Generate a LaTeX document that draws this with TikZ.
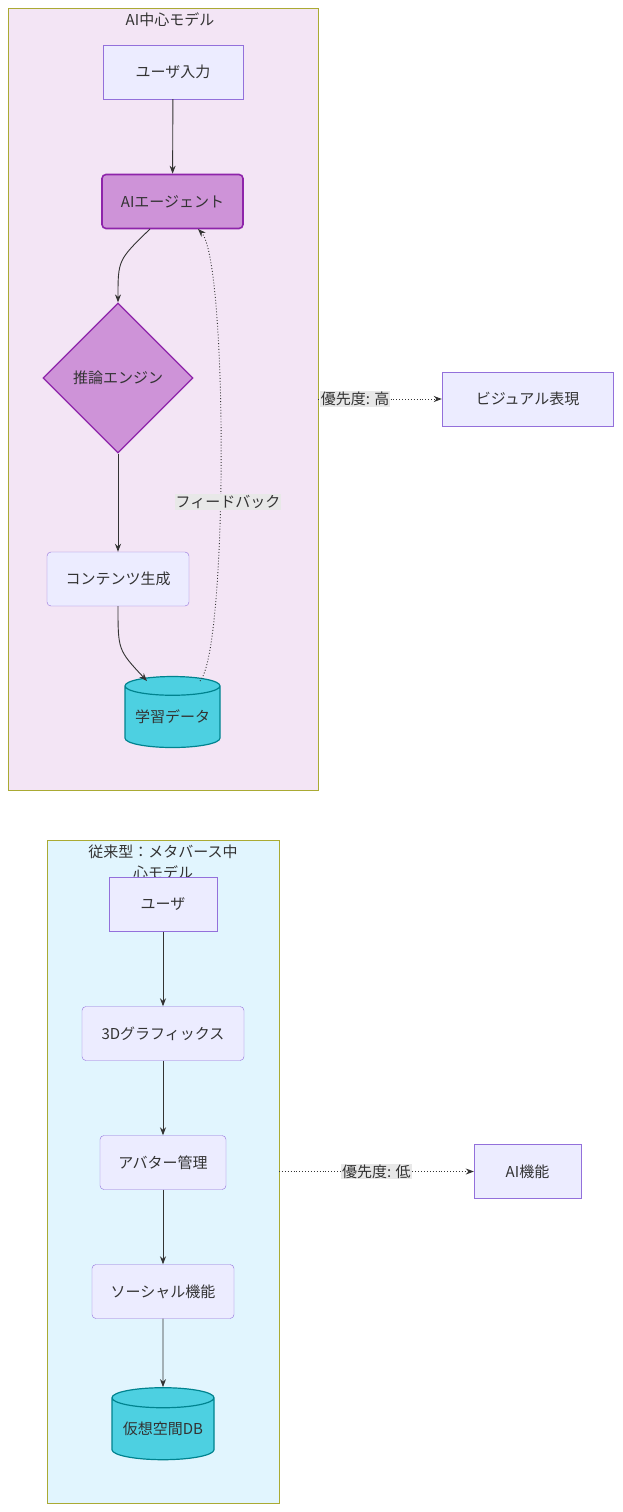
\documentclass[tikz,border=0pt]{standalone}
\usepackage{fontspec}
\setmainfont{Noto Sans CJK JP}
\usetikzlibrary{shapes.geometric,arrows.meta}
\definecolor{nfill}{HTML}{ECECFF}\definecolor{nline}{HTML}{9370DB}
\definecolor{pfill}{HTML}{CE93D8}\definecolor{pline}{HTML}{8E24AA}
\definecolor{cfill}{HTML}{4DD0E1}\definecolor{cline}{HTML}{00838F}
\definecolor{clA}{HTML}{F3E5F5}\definecolor{clB}{HTML}{E1F5FE}\definecolor{clL}{HTML}{AAAA33}
\definecolor{txt}{HTML}{333333}\definecolor{lbl}{HTML}{E8E8E8}
\tikzset{x=1pt,y=-1pt,
 every node/.style={font=\fontsize{15}{18}\selectfont,text=txt},
 box/.style={draw=nline,fill=nfill,minimum height=54pt,inner sep=0pt},
 rbox/.style={box,rounded corners=4pt},
 agent/.style={draw=pline,fill=pfill,line width=1.6pt,rounded corners=4pt,minimum height=54pt,minimum width=141pt,inner sep=0pt},
 dia/.style={diamond,draw=pline,fill=pfill,line width=1.2pt,minimum width=150pt,minimum height=150pt,inner sep=0pt},
 cyl/.style={cylinder,shape border rotate=90,aspect=0.25,draw=cline,fill=cfill,line width=1.2pt,inner sep=0pt},
 cl/.style={draw=clL,line width=0.8pt},
 arr/.style={draw=txt,line width=0.9pt,-{Stealth[length=8pt,width=6pt]}},
 dot/.style={arr,dotted},
 elab/.style={fill=lbl,inner sep=1pt}}
\begin{document}
\begin{tikzpicture}
\useasboundingbox[fill=white] (0,0) rectangle (622,1512);
\draw[cl,fill=clA] (8,8) rectangle (318,790);
\node[font=\fontsize{15}{18}\selectfont] (t1) at (170,20) {AI中心モデル};
\draw[cl,fill=clB] (47,840) rectangle (279,1503);
\node[align=center,font=\fontsize{15}{21}\selectfont] (t2) at (163,862) {従来型：メタバース中\\心モデル};

\node[box,minimum width=140pt] (u1) at (173,72) {ユーザ入力};
\node[agent] (ag) at (172.5,201.5) {AIエージェント};
\node[dia] (inf) at (118,378) {推論エンジン};
\node[rbox,minimum width=142pt] (cg) at (118,579) {コンテンツ生成};
\node[cyl,minimum width=95pt,minimum height=71pt] (ld) at (172.5,717) {学習データ};
\node[box,minimum width=171pt] (vis) at (527.5,399) {ビジュアル表現};

\node[box,minimum width=108pt] (u2) at (163,904.5) {ユーザ};
\node[rbox,minimum width=162pt] (g3) at (163,1033.5) {3Dグラフィックス};
\node[rbox,minimum width=126pt] (av) at (163,1162.5) {アバター管理};
\node[rbox,minimum width=142pt] (so) at (163,1291.5) {ソーシャル機能};
\node[cyl,minimum width=102pt,minimum height=72pt] (db) at (163,1429) {仮想空間DB};
\node[box,minimum width=107pt] (aif) at (527.5,1171.5) {AI機能};

\draw[arr] (u1) -- (ag);
\draw[arr] (150,229) .. controls (118,260) .. (inf.north);
\draw[arr] (inf.south) -- (cg);
\draw[arr] (cg.south) .. controls (118,650) .. (147,681);
\draw[dot] (200,681) .. controls (228,650) and (228,260) .. (198,229);
\node[elab] (fb) at (228,502) {フィードバック};
\coordinate (c1) at (318,399);
\draw[dot] (c1) -- node[elab,pos=0.3] {優先度: 高} (vis);

\draw[arr] (u2) -- (g3);
\draw[arr] (g3) -- (av);
\draw[arr] (av) -- (so);
\draw[arr] (so) -- (db.north);
\coordinate (c2) at (279,1171.5);
\draw[dot] (c2) -- node[elab,pos=0.5] {優先度: 低} (aif);
\end{tikzpicture}
\end{document}
